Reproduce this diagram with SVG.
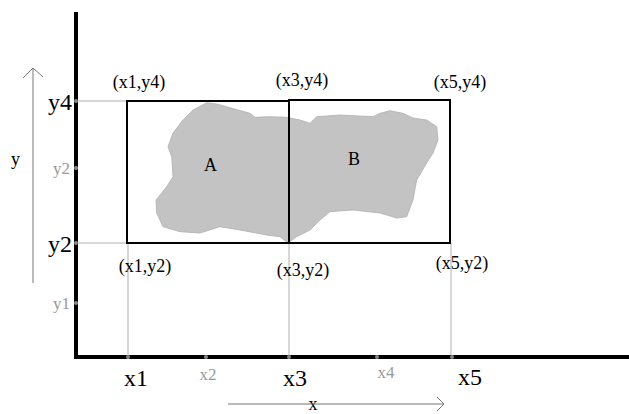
<svg xmlns="http://www.w3.org/2000/svg" width="629" height="414" viewBox="0 0 629 414">
<style>
.big{font-family:"Liberation Serif",serif;font-size:24px;fill:#000}
.sm{font-family:"Liberation Serif",serif;font-size:17px;fill:#999}
.lbl{font-family:"Liberation Serif",serif;font-size:18px;fill:#000}
.guide{stroke:#b0b0b0;stroke-width:1;fill:none}
.axis{stroke:#000;stroke-width:4;fill:none}
.rect{stroke:#000;stroke-width:2;fill:none}
.dot{fill:#888}
.arr{stroke:#777;stroke-width:1;fill:none}
</style>
<rect width="629" height="414" fill="#fff"/>
<g id="guides">
<line class="guide" x1="76" y1="101" x2="127" y2="101"/>
<line class="guide" x1="76" y1="243" x2="127" y2="243"/>
<line class="guide" x1="128" y1="243" x2="128" y2="357"/>
<line class="guide" x1="289" y1="243" x2="289" y2="357"/>
<line class="guide" x1="451" y1="243" x2="451" y2="357"/>
</g>
<g id="blob">
<path fill="#c3c3c3" stroke="#b0b0b0" stroke-width="0.8" d="M206.7,102.7 L216.7,104 L250,113.3 L255,117.3 L270,116.7 L286.7,117.3 L300,120 L310,123.3 L316.7,116.7 L340,115 L373,116.7 L380,113.3 L390,110.7 L403,113.3 L413,118 L426.7,120 L436.7,126.7 L438,140 L433,153 L426.7,163 L416.7,180 L413,200 L406.7,216.7 L396.7,218 L380,213 L353,210 L330,211.7 L320,220 L310,230 L296.7,236.7 L288,243 L280,236.7 L266.7,235 L240,230 L220,226.7 L200,233 L180,231.7 L163,226.7 L156.7,213 L156,200 L166.7,186.7 L173,176.7 L171.7,156.7 L168,146.7 L173,133 L183,120 L193,110 Z"/>
<text class="lbl" x="204" y="171" font-size="16">A</text>
<text class="lbl" x="348" y="165" font-size="16">B</text>
</g>
<g id="rectA"><rect class="rect" x="127" y="101" width="162" height="142"/></g>
<g id="rectB"><rect class="rect" x="289" y="100" width="161" height="143"/></g>
<g id="axes">
<polyline class="axis" points="76,12 76,357 629,357"/>
</g>
<g id="ticks">
<circle class="dot" cx="76" cy="101" r="2"/>
<circle class="dot" cx="76" cy="168" r="2"/>
<circle class="dot" cx="76" cy="243" r="2"/>
<circle class="dot" cx="76" cy="303" r="2"/>
<circle class="dot" cx="128" cy="357" r="2"/>
<circle class="dot" cx="206" cy="357" r="2"/>
<circle class="dot" cx="289" cy="357" r="2"/>
<circle class="dot" cx="377" cy="357" r="2"/>
<circle class="dot" cx="452" cy="357" r="2"/>
</g>
<g id="ylabels">
<text class="big" x="72" y="110" text-anchor="end">y4</text>
<text class="sm" x="70" y="174" text-anchor="end">y2</text>
<text class="big" x="72" y="252" text-anchor="end">y2</text>
<text class="sm" x="70" y="309" text-anchor="end">y1</text>
<text class="lbl" x="11" y="165" font-size="16">y</text>
</g>
<g id="xlabels">
<text class="big" x="136" y="386" text-anchor="middle">x1</text>
<text class="sm" x="208" y="380" text-anchor="middle">x2</text>
<text class="big" x="295" y="386" text-anchor="middle">x3</text>
<text class="sm" x="386" y="378" text-anchor="middle">x4</text>
<text class="big" x="470" y="385" text-anchor="middle">x5</text>
<text class="lbl" x="313" y="410" font-size="16" text-anchor="middle">x</text>
</g>
<g id="corners">
<text class="lbl" x="139" y="88" text-anchor="middle">(x1,y4)</text>
<text class="lbl" x="302" y="86" text-anchor="middle">(x3,y4)</text>
<text class="lbl" x="460" y="88" text-anchor="middle">(x5,y4)</text>
<text class="lbl" x="145" y="272" text-anchor="middle">(x1,y2)</text>
<text class="lbl" x="303" y="276" text-anchor="middle">(x3,y2)</text>
<text class="lbl" x="462" y="269" text-anchor="middle">(x5,y2)</text>
</g>
<g id="connectors">
<line class="arr" x1="33" y1="68" x2="33" y2="283"/>
<polyline class="arr" points="23,78 33,68 43,77"/>
<line class="arr" x1="228" y1="404" x2="444" y2="404" stroke="#000"/>
<polyline class="arr" points="437,397 444,404 437,411" stroke="#000"/>
</g>
</svg>
